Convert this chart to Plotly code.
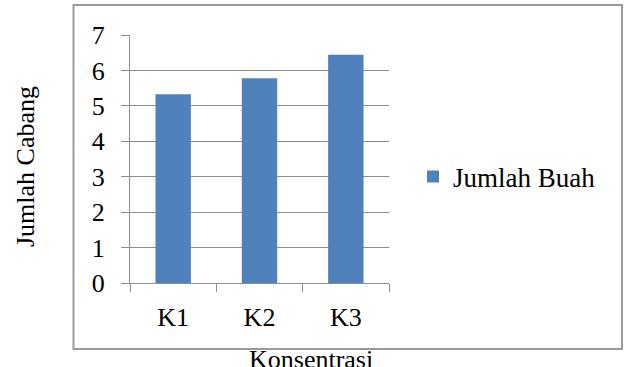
import plotly.graph_objects as go

# Data
categories = ["K1", "K2", "K3"]
jumlah_buah = [5.33, 5.78, 6.44]
y_ticks = [0, 1, 2, 3, 4, 5, 6, 7]

series_name = "Jumlah Buah"
x_title = "Konsentrasi"
y_title = "Jumlah Cabang"

W, H = 627, 367
# plot area in pixels
PL, PR, PT, PB = 130, 389, 35, 283

FONT = "'Liberation Serif', 'Times New Roman', serif"
GRID = "#8c8c8c"
BAR = "#4F81BD"
FS = 26


def px_x(p):
    return (p - PL) / (PR - PL)


def px_y(p):
    return (PB - p) / (PB - PT)


fig = go.Figure()
fig.add_trace(go.Bar(
    x=categories,
    y=jumlah_buah,
    name=series_name,
    marker=dict(color=BAR, line=dict(width=0)),
    width=0.41,
    showlegend=True,
))

fig.update_layout(
    width=W,
    height=H,
    margin=dict(l=PL, r=W - PR, t=PT, b=H - PB, pad=0),
    paper_bgcolor="white",
    plot_bgcolor="white",
    font=dict(family=FONT, size=FS, color="#000000"),
    showlegend=True,
    legend=dict(
        x=px_x(413), y=px_y(177), xanchor="left", yanchor="middle",
        font=dict(family=FONT, size=27, color="#000000"),
        bgcolor="rgba(0,0,0,0)",
        itemwidth=30,
    ),
    bargap=0.59,
)

fig.update_xaxes(
    type="category",
    showgrid=False,
    showline=True,
    linecolor=GRID,
    linewidth=1,
    ticks="outside",
    tickson="boundaries",
    ticklen=8,
    tickcolor=GRID,
    tickwidth=1,
    ticklabelstandoff=11,
    tickfont=dict(family=FONT, size=FS, color="#000000"),
)

fig.update_yaxes(
    range=[0, 7],
    tickvals=y_ticks,
    showgrid=True,
    gridcolor=GRID,
    gridwidth=1,
    showline=True,
    linecolor=GRID,
    linewidth=1,
    ticks="outside",
    ticklen=8,
    tickcolor=GRID,
    tickwidth=1,
    ticklabelstandoff=11,
    zeroline=False,
    tickfont=dict(family=FONT, size=FS, color="#000000"),
)

# chart frame
fig.add_shape(
    type="rect", xref="paper", yref="paper",
    x0=px_x(73.5), x1=px_x(622), y0=px_y(349), y1=px_y(5),
    line=dict(color="#999999", width=2),
    fillcolor="rgba(0,0,0,0)",
    layer="below",
)

# axis titles
fig.add_annotation(
    text=y_title, xref="paper", yref="paper",
    x=px_x(25), y=px_y(167), showarrow=False, textangle=-90,
    xanchor="center", yanchor="middle",
    font=dict(family=FONT, size=FS, color="#000000"),
)
fig.add_annotation(
    text=x_title, xref="paper", yref="paper",
    x=px_x(311), y=px_y(343), showarrow=False,
    xanchor="center", yanchor="top",
    font=dict(family=FONT, size=FS, color="#000000"),
)

fig.write_html("out.html")
